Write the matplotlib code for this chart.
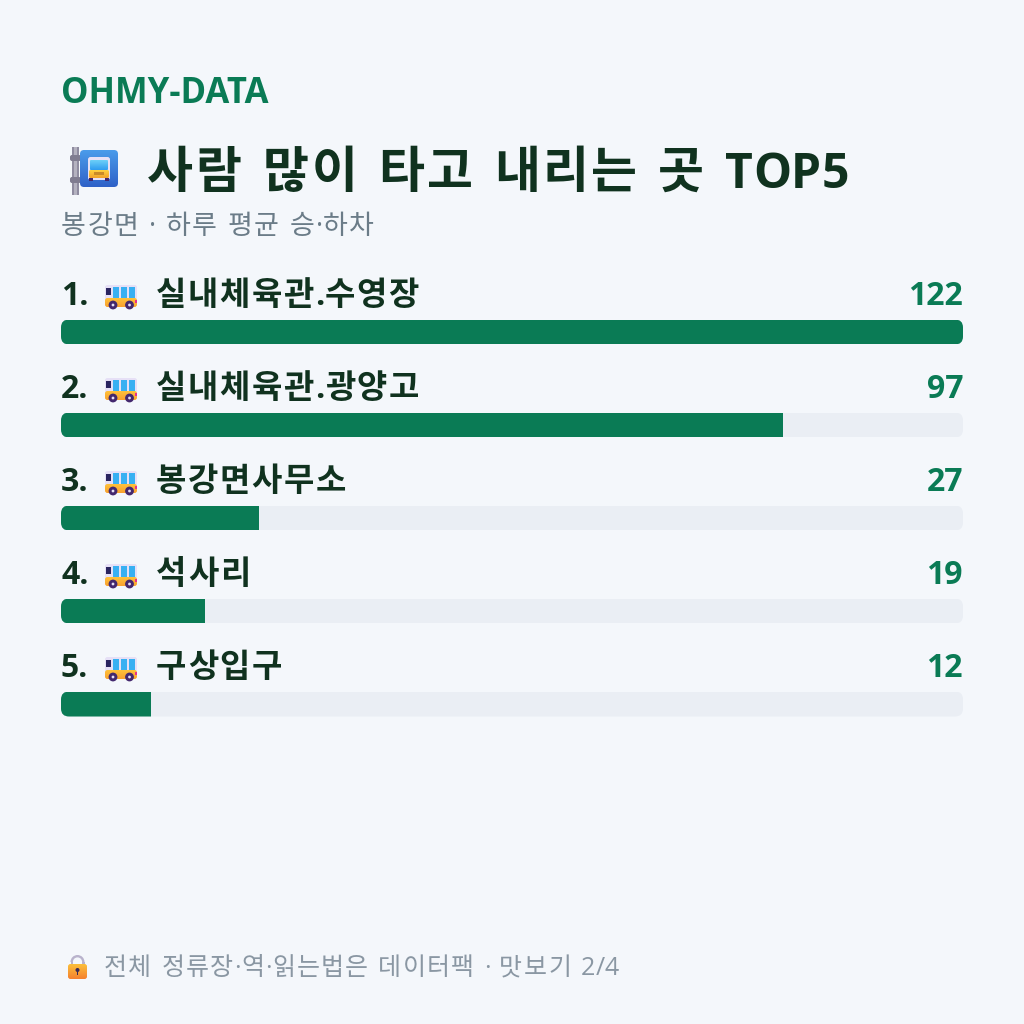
import numpy as np
import matplotlib.pyplot as plt
from matplotlib.colors import LinearSegmentedColormap
from matplotlib.font_manager import FontProperties, findfont
from matplotlib.ft2font import FT2Font, LoadFlags
from matplotlib.patches import Rectangle, Circle, FancyBboxPatch, Wedge

LATIN = 'Open Sans'
HANGUL = 'Noto Sans CJK KR'
plt.rcParams['font.family'] = [LATIN, HANGUL, 'DejaVu Sans']

names = ['실내체육관.수영장', '실내체육관.광양고', '봉강면사무소', '석사리', '구상입구']
values = np.array([122, 97, 27, 19, 12])
brand = 'OHMY-DATA'
title = '사람 많이 타고 내리는 곳 TOP5'
subtitle = '봉강면 · 하루 평균 승·하차'
footer = '전체 정류장·역·읽는법은 데이터팩 · 맛보기 2/4'

BG = '#F4F7FB'
GREEN = '#0A7B55'
TRACK = '#EAEEF4'
DARK = '#10321F'
SUB = '#6B7C88'
FOOT = '#8A97A3'


def px(size):
    # font size given in pixels at dpi 100
    return size * 72 / 100


def advance(ch, family, size, weight):
    font = FT2Font(findfont(FontProperties(family=family, weight=weight)))
    font.set_size(px(size), 100)
    return font.load_char(ord(ch), flags=LoadFlags.NO_HINTING).linearHoriAdvance / 65536


def spaced(ax, x, y, s, size, color, weight='normal', track=0.0, space=None, latin_size=None):
    # one text per character so hangul and word gaps can be set
    for ch in s:
        if ch == ' ':
            x += space if space is not None else size * 0.3
            continue
        is_hangul = '\uac00' <= ch <= '\ud7a3'
        family = HANGUL if is_hangul else LATIN
        sz = size if is_hangul or latin_size is None else latin_size
        ax.text(x, y, ch, family=family, fontsize=px(sz), fontweight=weight, color=color, va='baseline')
        x += advance(ch, family, sz, weight) + (track if is_hangul else 0)


def rbox(ax, x0, y0, x1, y1, r, **kw):
    p = FancyBboxPatch((x0 + r, y0 + r), x1 - x0 - 2 * r, y1 - y0 - 2 * r,
                       boxstyle='round,pad=%f,rounding_size=%f' % (r, r), lw=0, **kw)
    ax.add_patch(p)
    return p


def gradient(ax, x0, y0, x1, y1, top, bottom, clip=None, zorder=3):
    c = LinearSegmentedColormap.from_list('g', [top, bottom])
    im = ax.imshow(np.linspace(0, 1, 32).reshape(-1, 1), cmap=c, aspect='auto',
                   extent=(x0, x1, y1, y0), zorder=zorder, interpolation='bilinear')
    if clip is not None:
        im.set_clip_path(clip)
    return im


def bus_icon(ax, x, y):
    # side view bus, x and y are the top left corner
    rbox(ax, x, y, x + 32, y + 20, 2.5, fc='#E6E0F6', zorder=3)
    low = rbox(ax, x, y + 13, x + 32, y + 22, 2.5, fc='none', zorder=3)
    gradient(ax, x, y + 13, x + 32, y + 22, '#FFC23A', '#F9A030', clip=low)
    ax.add_patch(Rectangle((x + 1, y + 3), 4.5, 7, fc='#2A2560', lw=0, zorder=4))
    for wx in (7.5, 15.5, 23.5):
        ax.add_patch(Rectangle((x + wx, y + 1.5), 6.5, 11, fc='#38B0F2', lw=0, zorder=4))
    ax.add_patch(Rectangle((x + 30, y + 15), 2, 3, fc='#E8308A', lw=0, zorder=4))
    for cx in (x + 8, x + 24.5):
        ax.add_patch(Circle((cx, y + 20), 4.4, fc='#43286E', lw=0, zorder=5))
        ax.add_patch(Circle((cx, y + 20), 1.4, fc='#E6E0F6', lw=0, zorder=6))


def stop_icon(ax):
    ax.add_patch(Rectangle((72, 147), 7, 48, fc='#8F8CA0', lw=0, zorder=3))
    ax.add_patch(Rectangle((74, 147), 3, 48, fc='#B4B2C0', lw=0, zorder=3))
    for yb in (155, 177):
        rbox(ax, 70, yb, 81, yb + 6, 2, fc='#7F7C90', zorder=3)
    sq = rbox(ax, 80, 150, 118, 187, 4, fc='none', zorder=3)
    gradient(ax, 80, 150, 118, 187, '#4A9BEA', '#2F62C8', clip=sq)
    rbox(ax, 88, 157, 110, 180, 2.5, fc='#E6E0F6', zorder=4)
    scr = rbox(ax, 90, 160, 108, 170, 1, fc='none', zorder=4)
    gradient(ax, 90, 160, 108, 170, '#6CD0F8', '#2F9CF0', clip=scr, zorder=5)
    low = rbox(ax, 89, 170, 109, 178, 1.5, fc='none', zorder=4)
    gradient(ax, 89, 170, 109, 178, '#FFD23F', '#F2A22B', clip=low, zorder=5)
    ax.add_patch(Rectangle((94, 172), 10, 3, fc='#C98A28', lw=0, zorder=6))
    for xw in (89, 105):
        ax.add_patch(Rectangle((xw, 178), 4, 3, fc='#43286E', lw=0, zorder=4))


def lock_icon(ax):
    ax.add_patch(Wedge((77.5, 962), 7, 180, 360, width=2.4, fc='#B9B3CC', lw=0, zorder=3))
    ax.add_patch(Rectangle((70.5, 962), 2.4, 3, fc='#B9B3CC', lw=0, zorder=3))
    ax.add_patch(Rectangle((82.1, 962), 2.4, 3, fc='#B9B3CC', lw=0, zorder=3))
    b = rbox(ax, 68, 964, 87, 979, 2.5, fc='none', zorder=3)
    gradient(ax, 68, 964, 87, 979, '#FBBF3A', '#F5812F', clip=b)
    ax.add_patch(Circle((77.5, 970), 2, fc='#3A2A55', lw=0, zorder=4))
    ax.add_patch(Rectangle((76.6, 970), 1.8, 5, fc='#3A2A55', lw=0, zorder=4))


fig = plt.figure(figsize=(10.24, 10.24), dpi=100, facecolor=BG)

# page axes in pixel units, y pointing down
page = fig.add_axes([0, 0, 1, 1])
page.set_xlim(0, 1024)
page.set_ylim(1024, 0)
page.axis('off')

page.text(61, 103, brand, fontsize=px(34.7), fontweight='bold', color=GREEN, va='baseline')
stop_icon(page)
spaced(page, 147, 188, title, 50, DARK, 'bold', track=2.8, space=18, latin_size=48)
spaced(page, 61, 234, subtitle, 27, SUB, track=1.4, space=9.5)

# bars run from 0 to 100 percent of the top value
bar_ax = fig.add_axes([61 / 1024, 1 - 716.5 / 1024, 902 / 1024, (716.5 - 319.5) / 1024])
bar_ax.set_xlim(0, 100)
bar_ax.set_ylim(4.265, 0)
bar_ax.axis('off')
bar_ax.patch.set_alpha(0)

pct = np.round(values / values.max() * 100)
ypos = np.arange(len(values)) + 0.1325

for i, (name, v) in enumerate(zip(names, values)):
    base = 305 + 93 * i
    page.text(61, base, '%d.' % (i + 1), fontsize=px(32), fontweight='bold', color=DARK, va='baseline')
    bus_icon(page, 105, base - 20)
    spaced(page, 156, base, name, 33, DARK, 'bold', track=1.5)
    page.text(963, base, str(v), fontsize=px(32), fontweight='bold', color=GREEN, va='baseline', ha='right')

    top = 319.5 + 93 * i
    clip = rbox(page, 61, top, 963, top + 25, 8, fc='none')
    t = bar_ax.barh(ypos[i], 100, height=0.265, color=TRACK, lw=0)
    f = bar_ax.barh(ypos[i], pct[i], height=0.265, color=GREEN, lw=0)
    for b in (t[0], f[0]):
        b.set_clip_path(clip)

lock_icon(page)
spaced(page, 104, 975, footer, 25, FOOT, track=1.4, space=8.5)

page.set_xlim(0, 1024)
page.set_ylim(1024, 0)

fig.savefig('out.png', dpi=100, facecolor=BG)
